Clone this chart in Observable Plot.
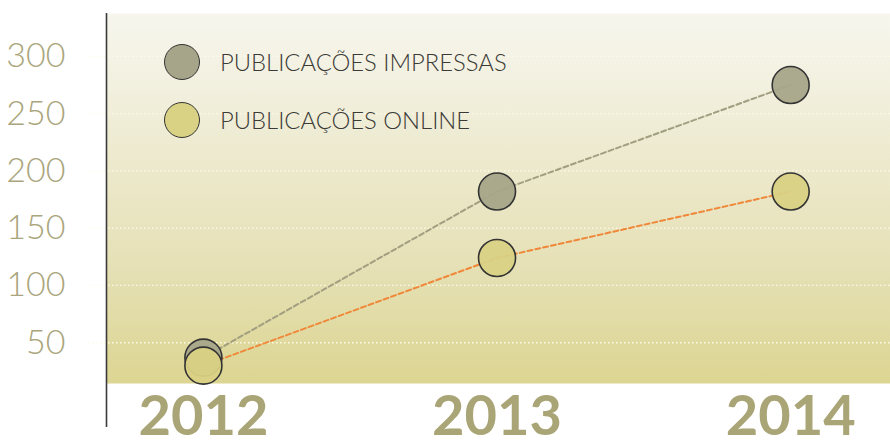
<!DOCTYPE html>
<html>
<head>
<meta charset="utf-8">
<script src="https://cdn.jsdelivr.net/npm/d3@7"></script>
<script src="https://cdn.jsdelivr.net/npm/@observablehq/plot@0.6"></script>
<style>
  html, body { margin: 0; padding: 0; background: #ffffff; }
  #wrap { position: relative; width: 890px; height: 446px; overflow: hidden; }
  #legend { position: absolute; left: 164px; top: 43px; font-family: Lato, "Open Sans", sans-serif; font-weight: 300; font-size: 23.8px; color: #3a3a36; }
  .item { display: flex; align-items: center; height: 38px; margin-bottom: 20px; }
  .sw { width: 36px; height: 36px; border-radius: 50%; border: 1.6px solid #333; box-sizing: border-box; margin-right: 20px; }
</style>
</head>
<body>
<div id="wrap"></div>
<script>
const years = [2012, 2013, 2014];
const impressas = [37, 182, 275];
const online = [30, 124, 182];
const yTicks = [50, 100, 150, 200, 250, 300];
const seriesNames = ["PUBLICAÇÕES IMPRESSAS", "PUBLICAÇÕES ONLINE"];
const seriesFill = ["#a7a589", "#d9d184"];
const seriesLine = ["#a29e80", "#f0883a"];

const rows = [];
years.forEach((yr, i) => {
  rows.push({year: yr, value: impressas[i], series: seriesNames[0]});
  rows.push({year: yr, value: online[i], series: seriesNames[1]});
});

const yDomain = [14.4, 337.5];
const xDomain = [2011.67, 2014.34];

const plot = Plot.plot({
  width: 890,
  height: 446,
  marginLeft: 106,
  marginRight: 0,
  marginTop: 13,
  marginBottom: 63,
  style: {background: "transparent", overflow: "visible"},
  x: {domain: xDomain, label: null},
  y: {domain: yDomain, label: null},
  color: {domain: seriesNames, range: seriesFill},
  marks: [
    Plot.frame({fill: "url(#bgGrad)", stroke: "none"}),
    Plot.ruleY(yTicks, {stroke: "#fdfbe8", strokeWidth: 1.3, strokeDasharray: "1.5,2.5", insetLeft: -18}),
    Plot.line(rows.filter(d => d.series === seriesNames[0]), {x: "year", y: "value", stroke: seriesLine[0], strokeWidth: 2, strokeDasharray: "5,3"}),
    Plot.line(rows.filter(d => d.series === seriesNames[1]), {x: "year", y: "value", stroke: seriesLine[1], strokeWidth: 2, strokeDasharray: "5,3"}),
    Plot.dot(rows, {x: "year", y: "value", r: 18.5, fill: "series", fillOpacity: 0.95, stroke: "#333333", strokeWidth: 1.6}),
    Plot.ruleX([xDomain[0]], {y1: -24, y2: yDomain[1], stroke: "#3a3a3a", strokeWidth: 1.6}),
    Plot.axisY(yTicks, {label: null, tickSize: 0, tickPadding: 41, fontSize: 34, fontWeight: 300, fill: "#aaa57c", fontFamily: "Lato, sans-serif"}),
    Plot.axisX(years, {label: null, tickSize: 0, tickPadding: 12, tickFormat: d => String(d), fontSize: 56, fontWeight: 700, fill: "#aaa577", fontFamily: "Lato, sans-serif"})
  ]
});

// gradient definition for the background panel
const ns = "http://www.w3.org/2000/svg";
const defs = document.createElementNS(ns, "defs");
const grad = document.createElementNS(ns, "linearGradient");
grad.setAttribute("id", "bgGrad");
grad.setAttribute("x1", "0"); grad.setAttribute("y1", "0");
grad.setAttribute("x2", "0"); grad.setAttribute("y2", "1");
[["0%", "#f7f6ee"], ["35%", "#eeebd2"], ["70%", "#e5e0b4"], ["100%", "#dcd592"]].forEach(([o, c]) => {
  const s = document.createElementNS(ns, "stop");
  s.setAttribute("offset", o); s.setAttribute("stop-color", c);
  grad.appendChild(s);
});
defs.appendChild(grad);
plot.insertBefore(defs, plot.firstChild);

const wrap = document.getElementById("wrap");
wrap.appendChild(plot);

const legend = document.createElement("div");
legend.id = "legend";
seriesNames.forEach((name, i) => {
  const item = document.createElement("div");
  item.className = "item";
  const sw = document.createElement("div");
  sw.className = "sw";
  sw.style.background = seriesFill[i];
  const t = document.createElement("span");
  t.textContent = name;
  item.appendChild(sw); item.appendChild(t);
  legend.appendChild(item);
});
wrap.appendChild(legend);
</script>
</body>
</html>
